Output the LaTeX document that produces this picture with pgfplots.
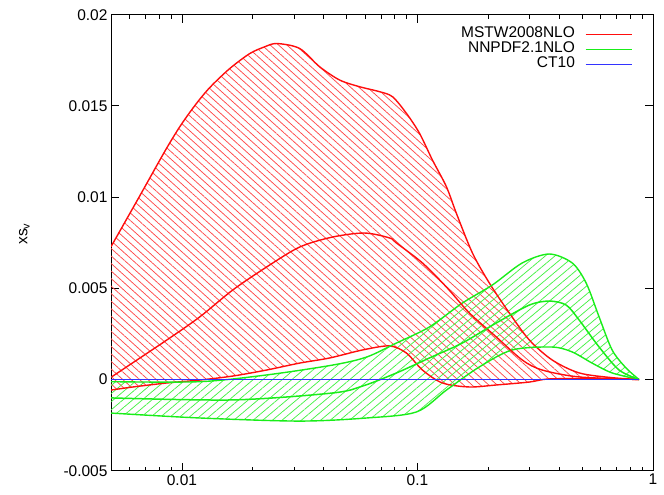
\documentclass[border=0pt]{standalone}
\usepackage{pgfplots}
\pgfplotsset{compat=1.18}
\usepgfplotslibrary{fillbetween}
\usetikzlibrary{patterns.meta}
\usepackage{fontspec}
\setmainfont{Liberation Sans}
\definecolor{mred}{rgb}{1,0.05,0.05}
\definecolor{mgreen}{rgb}{0.1,0.93,0.1}
\definecolor{mblue}{rgb}{0.2,0.2,1}

% MSTW2008NLO
\pgfplotstableread{
x y
0.005 0.00728
0.00664 0.01009
0.00847 0.01252
0.00981 0.01387
0.01135 0.01502
0.01314 0.01601
0.01597 0.01705
0.01942 0.01787
0.02247 0.01824
0.0253 0.01842
0.0316 0.01815
0.0384 0.01715
0.0467 0.01642
0.0568 0.01605
0.0690 0.01578
0.0784 0.01550
0.0898 0.01459
0.1020 0.01350
0.1158 0.01203
0.1327 0.01057
0.1463 0.00911
0.1711 0.00694
0.2019 0.00529
0.2454 0.00365
0.2983 0.00217
0.3733 0.00107
0.4858 0.00036
0.6705 0.00010
0.8724 0.0
}\mstwup
\pgfplotstableread{
x y
0.00505 0.00016
0.00864 0.00217
0.0119 0.00343
0.01645 0.00491
0.0229 0.00617
0.0316 0.00726
0.0436 0.00781
0.0596 0.00803
0.0761 0.00776
0.0815 0.00748
0.1050 0.00639
0.1327 0.00507
0.1661 0.00365
0.2162 0.00233
0.2786 0.00107
0.3386 0.00052
0.4858 0.00014
0.8724 0.0
}\mstwc
\pgfplotstableread{
x y
0.005 -0.00058
0.0062 -0.00041
0.00864 -0.00019
0.0119 -0.00003
0.01645 0.00019
0.0229 0.00052
0.0316 0.00090
0.0424 0.00118
0.0585 0.00162
0.0761 0.00184
0.0898 0.00145
0.1050 0.00052
0.1276 -0.00019
0.1661 -0.00041
0.2162 -0.00030
0.2983 -0.00014
0.3626 0.00003
0.5905 0.00005
0.8724 0.0
}\mstwlo

% NNPDF2.1NLO
\pgfplotstableread{
x y
0.005 -0.00012
0.0119 -0.00012
0.0229 0.00025
0.0436 0.00079
0.0608 0.00123
0.0815 0.00200
0.1124 0.00288
0.1551 0.00419
0.2079 0.00518
0.2786 0.00639
0.3626 0.00688
0.4538 0.00639
0.5202 0.00529
0.5905 0.00343
0.6705 0.00162
0.7685 0.00063
0.8724 0.0
}\nnup
\pgfplotstableread{
x y
0.005 -0.00101
0.01645 -0.00112
0.0436 -0.00074
0.0585 -0.00036
0.0815 0.00036
0.1124 0.00118
0.1551 0.00200
0.2162 0.00310
0.2983 0.00408
0.3626 0.00430
0.4280 0.00408
0.4858 0.00326
0.5905 0.00178
0.7178 0.00052
0.8724 0.0
}\nnc
\pgfplotstableread{
x y
0.005 -0.00184
0.0119 -0.00211
0.0316 -0.00228
0.0608 -0.00211
0.0990 -0.00178
0.1327 -0.00058
0.1832 0.00069
0.2526 0.00162
0.3733 0.00178
0.4538 0.00151
0.5514 0.00090
0.6705 0.00036
0.8724 0.0
}\nnlo

% CT10
\pgfplotstableread{
x y
0.005 0.0
0.8724 0.0
}\ctc

\begin{document}
\begin{tikzpicture}
\begin{axis}[
  at={(0,0)}, anchor=south west,
  scale only axis, width=542bp, height=456bp,
  xmode=log, xmin=0.005, xmax=1,
  ymin=-0.005, ymax=0.02,
  xtick={0.01,0.1,1}, xticklabels={0.01,0.1,1},
  minor xtick={0.006,0.007,0.008,0.009,0.02,0.03,0.04,0.05,0.06,0.07,0.08,0.09,0.2,0.3,0.4,0.5,0.6,0.7,0.8,0.9},
  ytick={-0.005,0,0.005,0.01,0.015,0.02},
  yticklabels={-0.005,0,0.005,0.01,0.015,0.02},
  scaled y ticks=false,
  tick align=inside,
  major tick length=8bp, minor tick length=4bp,
  every tick/.style={black, line width=0.8bp},
  axis line style={line width=0.9bp},
  tick label style={font=\fontsize{15.5bp}{18bp}\selectfont},
  label style={font=\fontsize{15.5bp}{18bp}\selectfont},
  ylabel={xs\textsubscript{v}},
  ylabel style={at={(axis description cs:-0.16,0.519)}, anchor=center},
  legend style={draw=none, fill=none, at={(axis description cs:0.968,0.978)}, anchor=north east,
    font=\fontsize{15.5bp}{18bp}\selectfont, row sep=0pt,
    nodes={inner sep=0pt, text height=11bp, text depth=4bp}},
  legend cell align=right,
  legend plot pos=right,
  legend image code/.code={\path (0bp,0bp); \draw[#1] (10bp,0bp) -- (56bp,0bp);},
  fill between/on layer=main,
]
% band outlines (paths only) and hatching
\addplot[name path=mu, draw=none, smooth, forget plot] table {\mstwup};
\addplot[name path=ml, draw=none, smooth, forget plot] table {\mstwlo};
\addplot[pattern={Lines[angle=-42,distance=5.6bp,line width=0.75bp]}, pattern color=mred!75, draw=none, forget plot] fill between[of=mu and ml];
\addplot[name path=nu, draw=none, smooth, forget plot] table {\nnup};
\addplot[name path=nl, draw=none, smooth, forget plot] table {\nnlo};
\addplot[pattern={Lines[angle=40,distance=6.2bp,line width=0.75bp]}, pattern color=mgreen!80, draw=none, forget plot] fill between[of=nu and nl];
% band edges
\addplot[draw=mred, line width=1.4bp, smooth, forget plot] table {\mstwup};
\addplot[draw=mred, line width=1.4bp, smooth, forget plot] table {\mstwlo};
\addplot[draw=mgreen, line width=1.4bp, smooth, forget plot] table {\nnup};
\addplot[draw=mgreen, line width=1.4bp, smooth, forget plot] table {\nnlo};
% central lines
\addplot[draw=mred, line width=1.4bp, smooth] table {\mstwc};
\addlegendentry{MSTW2008NLO}
\addplot[draw=mgreen, line width=1.5bp, smooth] table {\nnc};
\addlegendentry{NNPDF2.1NLO}
\addplot[draw=mblue, line width=1.6bp] table {\ctc};
\addlegendentry{CT10}
\end{axis}
\pgfresetboundingbox
\useasboundingbox (-111bp,-24.3bp) rectangle (553bp,470.7bp);
\end{tikzpicture}
\end{document}
